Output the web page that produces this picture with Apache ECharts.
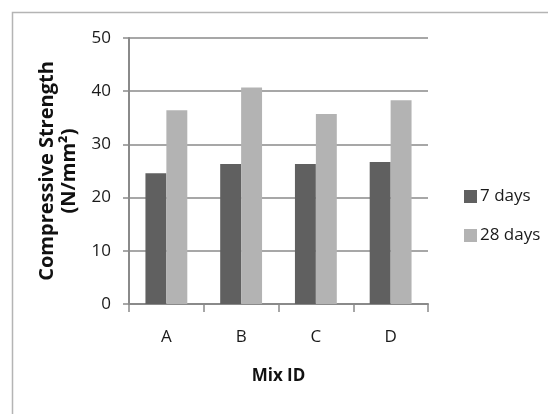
<!DOCTYPE html>
<html>
<head>
<meta charset="utf-8">
<script src="https://cdn.jsdelivr.net/npm/echarts@6/dist/echarts.min.js"></script>
<style>
html,body{margin:0;padding:0;background:#fff;}
#c{width:548px;height:414px;}
</style>
</head>
<body>
<div id="c"></div>
<script>
const categories = ['A', 'B', 'C', 'D'];
const days7 = [24.6, 26.3, 26.3, 26.7];
const days28 = [36.4, 40.7, 35.7, 38.3];
const seriesNames = ['7 days', '28 days'];
const yTicks = [0, 10, 20, 30, 40, 50];

const FONT = '"Open Sans", Lato, sans-serif';
const chart = echarts.init(document.getElementById('c'), null, {renderer: 'canvas'});
chart.setOption({
  animation: false,
  backgroundColor: '#fff',
  graphic: [{
    type: 'rect', left: 10, top: 10, silent: true,
    shape: {width: 600, height: 500},
    style: {fill: 'none', stroke: '#b4b4b4', lineWidth: 1.5}
  }],
  grid: {left: 129, right: 120, top: 38, bottom: 110, containLabel: false},
  legend: {
    orient: 'vertical', left: 459, top: 183, itemGap: 22,
    itemWidth: 13, itemHeight: 13, itemStyle: {borderWidth: 0},
    icon: 'rect',
    textStyle: {fontFamily: FONT, fontSize: 17, color: '#1a1a1a', padding: [0, 0, 0, -2]},
    data: seriesNames
  },
  xAxis: {
    type: 'category', data: categories,
    name: 'Mix ID', nameLocation: 'middle', nameGap: 64,
    nameTextStyle: {fontFamily: FONT, fontSize: 17, fontWeight: 'bold', color: '#111'},
    axisLine: {lineStyle: {color: '#8a8a8a', width: 2}},
    axisTick: {show: true, length: 8, lineStyle: {color: '#8a8a8a', width: 1.5}},
    axisLabel: {fontFamily: FONT, fontSize: 17, color: '#1a1a1a', margin: 25}
  },
  yAxis: {
    type: 'value', min: 0, max: 50, interval: 10,
    name: 'Compressive Strength\n(N/mm²)', nameLocation: 'middle', nameGap: 42,
    nameTextStyle: {fontFamily: FONT, fontSize: 20, fontWeight: 'bold', color: '#111', lineHeight: 22},
    axisLine: {show: true, lineStyle: {color: '#8a8a8a', width: 2}},
    axisTick: {show: true, length: 6, lineStyle: {color: '#8a8a8a', width: 1.5}},
    axisLabel: {fontFamily: FONT, fontSize: 17, color: '#1a1a1a', margin: 18,
      formatter: v => yTicks.includes(v) ? String(v) : ''},
    splitLine: {show: true, lineStyle: {color: '#8a8a8a', width: 1.5}}
  },
  series: [
    {name: seriesNames[0], type: 'bar', data: days7, barGap: '0%', barCategoryGap: '44%',
     itemStyle: {color: '#606060'}},
    {name: seriesNames[1], type: 'bar', data: days28, barGap: '0%', barCategoryGap: '44%',
     itemStyle: {color: '#b3b3b3'}}
  ]
});
</script>
</body>
</html>
